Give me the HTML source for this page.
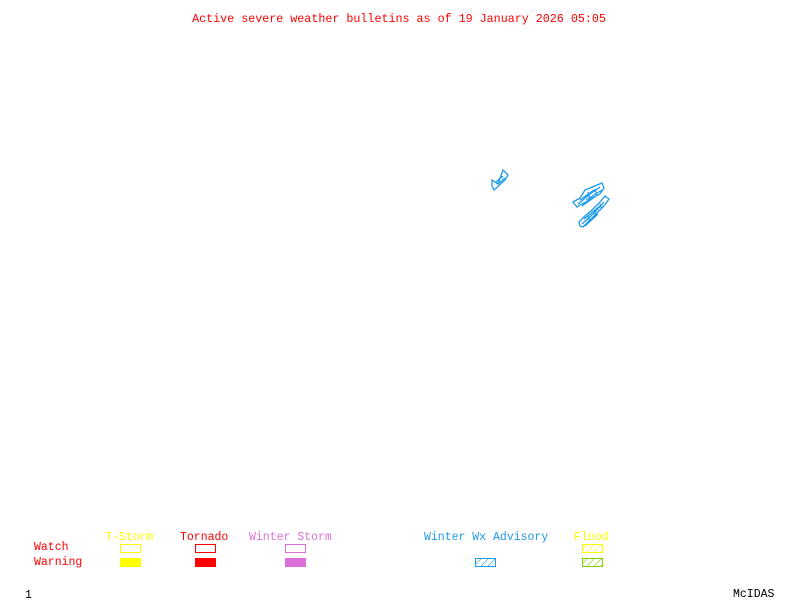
<!DOCTYPE html>
<html><head><style>
html,body{margin:0;padding:0;background:#fff;}
svg{display:block;}
text{font-family:"Liberation Mono","DejaVu Sans Mono",monospace;}
</style></head><body>
<svg width="800" height="600" viewBox="0 0 800 600" xmlns="http://www.w3.org/2000/svg">
<defs>
<pattern id="hb" width="5" height="5" patternUnits="userSpaceOnUse" patternTransform="rotate(45)">
<line x1="0" y1="0" x2="0" y2="5" stroke="#1e9be8" stroke-width="1.2"/></pattern>
<pattern id="hy" width="5" height="5" patternUnits="userSpaceOnUse" patternTransform="rotate(45)">
<line x1="0" y1="0" x2="0" y2="5" stroke="#ffff00" stroke-width="1.2"/></pattern>
<pattern id="hg" width="5" height="5" patternUnits="userSpaceOnUse" patternTransform="rotate(45)">
<line x1="0" y1="0" x2="0" y2="5" stroke="#7fd000" stroke-width="1.2"/></pattern>
</defs>
<text x="399" y="22" font-size="11.7" fill="#ff0000" text-anchor="middle">Active severe weather bulletins as of 19 January 2026 05:05</text>

<g fill="none" stroke="#1e9be8" stroke-width="1.3">
<path d="M492,180 L498,184 L503,170 L508,175 L505,180 L494,190 L492,186 Z M496,182 L503,176 M498,184 L505,178"/>
<path d="M573,202 L580,198 L585,190 L590,188 L597,185 L602,183 L604,188 L600,194 L592,198 L586,202 L580,205 L577,207 Z M578,204 L590,194 L600,187 M582,206 L596,196 M580,200 L594,190 M586,200 L602,190 M588,192 L590,200 M595,189 L597,196"/>
<path d="M579,222 L585,216 L592,210 L600,202 L605,196 L609,199 L604,206 L596,214 L589,221 L583,227 L580,226 Z M582,224 L594,213 L604,202 M585,226 L598,214 M584,219 L600,206 M588,216 L590,222 M594,210 L596,216 M600,204 L602,209"/>
</g>

<g font-size="11.5">
<text x="34" y="550" fill="#ff0000">Watch</text>
<text x="34" y="565" fill="#ff0000">Warning</text>
<text x="105" y="540" fill="#ffff00">T-Storm</text>
<text x="180" y="540" fill="#ff0000">Tornado</text>
<text x="249" y="540" fill="#da70d6">Winter Storm</text>
<text x="424" y="540" fill="#1e9be8">Winter Wx Advisory</text>
<text x="574" y="540" fill="#ffff00">Flood</text>
<text x="25" y="598" fill="#000">1</text>
<text x="733" y="597" fill="#000">McIDAS</text>
</g>

<rect x="120.5" y="544.5" width="20" height="8" fill="none" stroke="#ffff00"/>
<rect x="120" y="558" width="21" height="9" fill="#ffff00"/>
<rect x="195.5" y="544.5" width="20" height="8" fill="none" stroke="#ff0000"/>
<rect x="195" y="558" width="21" height="9" fill="#ff0000"/>
<rect x="285.5" y="544.5" width="20" height="8" fill="none" stroke="#da70d6"/>
<rect x="285" y="558" width="21" height="9" fill="#da70d6"/>
<rect x="475.5" y="558.5" width="20" height="8" fill="url(#hb)" stroke="#1e9be8"/>
<rect x="582.5" y="544.5" width="20" height="8" fill="url(#hy)" stroke="#ffff00"/>
<rect x="582.5" y="558.5" width="20" height="8" fill="url(#hg)" stroke="#7fd000"/>
</svg>
</body></html>
